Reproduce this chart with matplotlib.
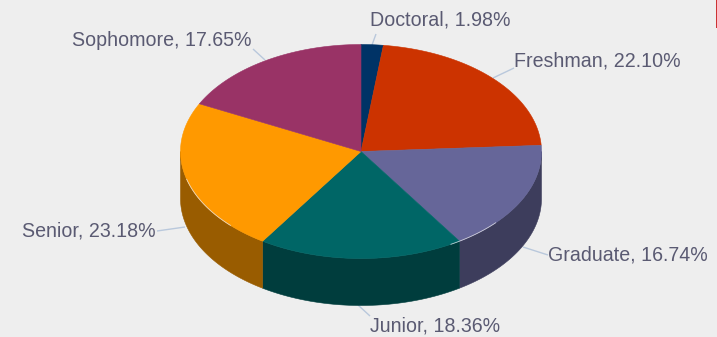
import numpy as np
import matplotlib
matplotlib.use("Agg")
import matplotlib.pyplot as plt
from matplotlib.patches import Polygon, Rectangle

categories = ["Doctoral", "Freshman", "Graduate", "Junior", "Senior", "Sophomore"]
shares = [1.98, 22.10, 16.74, 18.36, 23.18, 17.65]
share_labels = ["1.98%", "22.10%", "16.74%", "18.36%", "23.18%", "17.65%"]
top_colors = ["#003366", "#CC3300", "#666699", "#006666", "#FF9900", "#993366"]
side_colors = ["#001F3D", "#7A1F00", "#3D3D5C", "#003D3D", "#995C00", "#5C1F3D"]

# layout (pixels)
W, H = 717, 337
CX, CY, RX, RY, DEPTH = 361, 151.5, 180.5, 107, 47
BG = "#EEEEEE"
TEXT = "#5A5A72"
LEADER = "#B9C8DC"
FS = 14.1
label_xy = [(370, 20.5), (514, 61), (548, 255), (370, 326), (22, 231), (72, 40.5)]
leaders = [((372, 45), (376, 34)), ((493, 78), (514, 68)), ((523, 247), (548, 255)),
           ((358, 305), (370, 316)), ((185, 227), (157, 231)), ((265, 60), (253, 49))]

plt.rcParams["font.family"] = ["Liberation Sans", "DejaVu Sans"]
fig = plt.figure(figsize=(W / 100, H / 100), dpi=100, facecolor=BG)
ax = fig.add_axes([0, 0, 1, 1])
ax.set_xlim(0, W)
ax.set_ylim(H, 0)
ax.axis("off")


def ell(theta, dy=0.0):
    # theta: clockwise from 12 o'clock, radians
    return CX + RX * np.sin(theta), CY - RY * np.cos(theta) + dy


edges = np.concatenate([[0], np.cumsum(shares)]) / sum(shares) * 2 * np.pi

# side walls (front half only)
for i in range(len(shares)):
    a = max(edges[i], np.pi / 2)
    b = min(edges[i + 1], 3 * np.pi / 2)
    if b <= a:
        continue
    t = np.linspace(a, b, 160)
    x, y = ell(t)
    x2, y2 = ell(t[::-1], DEPTH)
    pts = np.column_stack([np.concatenate([x, x2]), np.concatenate([y, y2])])
    ax.add_patch(Polygon(pts, closed=True, facecolor=side_colors[i],
                         edgecolor=side_colors[i], lw=0.4, zorder=2))

# top faces
for i in range(len(shares)):
    t = np.linspace(edges[i], edges[i + 1], 160)
    x, y = ell(t)
    pts = np.column_stack([np.r_[CX, x], np.r_[CY, y]])
    ax.add_patch(Polygon(pts, closed=True, facecolor=top_colors[i],
                         edgecolor=top_colors[i], lw=0.4, zorder=3))

# thin light rim along the front of the top face
for lo, hi in [(2.30, 2.62), (3.95, 4.45)]:
    t = np.linspace(lo, hi, 60)
    x, y = ell(t)
    ax.plot(x, y, color="#E8E8EE", lw=0.6, alpha=0.8, zorder=4)

# leader lines and labels
for (p, q) in leaders:
    ax.plot([p[0], q[0]], [p[1], q[1]], color=LEADER, lw=1, zorder=1,
            solid_capstyle="butt")
for name, s, (lx, ly) in zip(categories, share_labels, label_xy):
    ax.text(lx, ly, f"{name}, {s}", color=TEXT, fontsize=FS, ha="left", va="center", zorder=5)

# red sliver at the top right corner of the source image
ax.add_patch(Rectangle((715.5, 0), 1.5, 28, facecolor="#CC3333", edgecolor="none", zorder=6))

fig.savefig("out.png", dpi=100, facecolor=BG)
